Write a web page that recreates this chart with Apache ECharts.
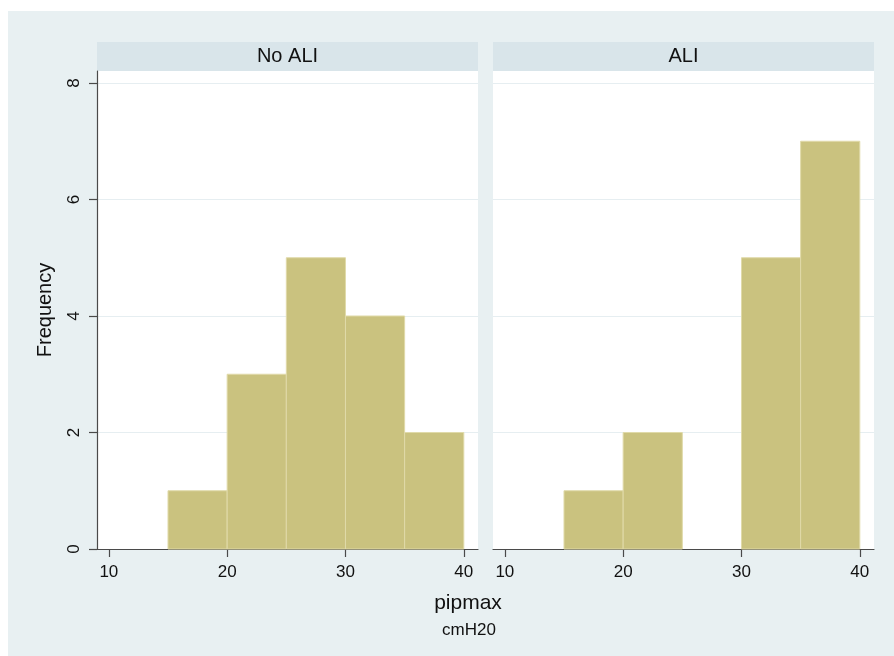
<!DOCTYPE html>
<html>
<head>
<meta charset="utf-8">
<script src="https://cdn.jsdelivr.net/npm/echarts@6/dist/echarts.min.js"></script>
<style>
  html, body { margin: 0; padding: 0; background: #ffffff; }
  #chart { width: 894px; height: 656px; }
</style>
</head>
<body>
<div id="chart"></div>
<script>
// Histogram of pipmax (cmH20), bin width 5, split by ALI status
const binEdges = [15, 20, 25, 30, 35, 40];
const panelTitles = ['No ALI', 'ALI'];
const noAliCounts = [1, 3, 5, 4, 2];
const aliCounts = [1, 2, 0, 5, 7];
const xTickValues = [10, 20, 30, 40];
const yTickValues = [0, 2, 4, 6, 8];

const FONT = '"Liberation Sans", Arial, Helvetica, sans-serif';
const BAR_FILL = '#cac27f';
const BAR_EDGE = '#e0daa9';
const AXIS_COLOR = '#4a4a4a';
const GRID_LINE = '#e6eef1';
const OUTER_BG = '#e8f0f2';
const STRIP_BG = '#d9e5ea';

function toBins(counts) {
  return counts.map((c, i) => [binEdges[i], binEdges[i + 1], c]).filter(d => d[2] > 0);
}

function renderBin(params, api) {
  const lo = api.value(0), hi = api.value(1), n = api.value(2);
  const topLeft = api.coord([lo, n]);
  const bottomRight = api.coord([hi, 0]);
  return {
    type: 'rect',
    shape: {
      x: topLeft[0],
      y: topLeft[1],
      width: bottomRight[0] - topLeft[0],
      height: bottomRight[1] - topLeft[1]
    },
    style: { fill: BAR_FILL, stroke: BAR_EDGE, lineWidth: 1 }
  };
}

const panels = [
  { left: 97, width: 381 },
  { left: 493, width: 381 }
];
const gridTop = 71, gridHeight = 478;

function makeXAxis(i) {
  return {
    type: 'value', gridIndex: i, min: 9, max: 41.2,
    axisLine: { show: true, onZero: false, lineStyle: { color: AXIS_COLOR, width: 1.2 } },
    axisTick: { show: true, length: 8, customValues: xTickValues, lineStyle: { color: AXIS_COLOR, width: 1.2 } },
    axisLabel: { customValues: xTickValues, margin: 15, color: '#111', fontSize: 17, fontFamily: FONT },
    splitLine: { show: false }
  };
}

function makeYAxis(i) {
  const first = i === 0;
  return {
    type: 'value', gridIndex: i, min: 0, max: 8.206, interval: 2,
    name: first ? 'Frequency' : '',
    nameLocation: 'middle', nameGap: 42, nameRotate: 90,
    nameTextStyle: { fontSize: 20, color: '#111', fontFamily: FONT },
    axisLine: { show: first, lineStyle: { color: AXIS_COLOR, width: 1.2 } },
    axisTick: { show: first, length: 8, customValues: yTickValues, lineStyle: { color: AXIS_COLOR, width: 1.2 } },
    axisLabel: { show: first, customValues: yTickValues, rotate: 90, margin: 14, color: '#111', fontSize: 17, fontFamily: FONT },
    splitLine: { show: true, lineStyle: { color: GRID_LINE, width: 1.2 } }
  };
}

const graphics = [
  { type: 'rect', z: -10, silent: true, shape: { x: 8, y: 11, width: 886, height: 645 }, style: { fill: OUTER_BG } }
];
panels.forEach((p, i) => {
  graphics.push({ type: 'rect', z: -5, silent: true, shape: { x: p.left, y: 42, width: p.width, height: 29 }, style: { fill: STRIP_BG } });
  graphics.push({
    type: 'text', silent: true, x: p.left + p.width / 2, y: 56.5,
    style: { text: panelTitles[i], fill: '#111', font: '20px ' + FONT, textAlign: 'center', textVerticalAlign: 'middle' }
  });
});
graphics.push({
  type: 'text', silent: true, x: 468, y: 603,
  style: { text: 'pipmax', fill: '#111', font: '21px ' + FONT, textAlign: 'center', textVerticalAlign: 'middle' }
});
graphics.push({
  type: 'text', silent: true, x: 469, y: 630,
  style: { text: 'cmH20', fill: '#111', font: '17px ' + FONT, textAlign: 'center', textVerticalAlign: 'middle' }
});

const chart = echarts.init(document.getElementById('chart'), null, { renderer: 'canvas' });
chart.setOption({
  animation: false,
  backgroundColor: '#ffffff',
  textStyle: { fontFamily: FONT },
  grid: panels.map(p => ({
    left: p.left, top: gridTop, width: p.width, height: gridHeight,
    show: true, backgroundColor: '#ffffff', borderWidth: 0, containLabel: false
  })),
  xAxis: [makeXAxis(0), makeXAxis(1)],
  yAxis: [makeYAxis(0), makeYAxis(1)],
  graphic: graphics,
  series: [
    { type: 'custom', xAxisIndex: 0, yAxisIndex: 0, renderItem: renderBin, encode: { x: [0, 1], y: 2 }, data: toBins(noAliCounts) },
    { type: 'custom', xAxisIndex: 1, yAxisIndex: 1, renderItem: renderBin, encode: { x: [0, 1], y: 2 }, data: toBins(aliCounts) }
  ]
});
</script>
</body>
</html>
